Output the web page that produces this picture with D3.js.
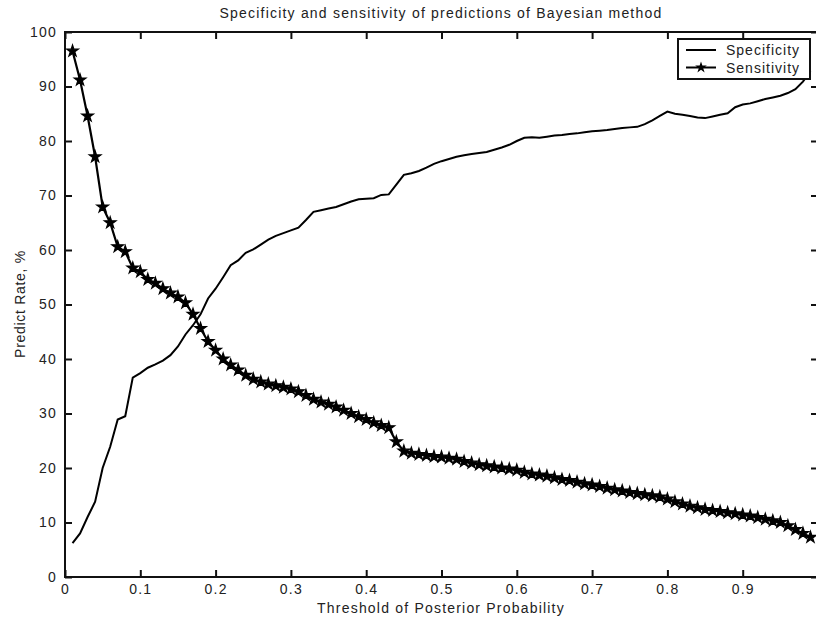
<!DOCTYPE html>
<html>
  <head>
    <meta charset="utf-8">
    <title>Specificity and sensitivity</title>
    <script src="https://cdn.jsdelivr.net/npm/d3@7"></script>
    <style>
      body { margin: 0; background: #fff; }
      text { font-family: "Liberation Sans", Arial, sans-serif; fill: #222; letter-spacing: 1.2px; }
    </style>
  </head>

  <body>
    <svg id="chart" width="816" height="617"></svg>

    <script>
      // data: thresholds 0.01 .. 0.99
      var thresholds = d3.range(1, 100).map(function(i) { return i / 100; });

      var specificity = [
        6.2, 8.0, 11.0, 13.8, 20.0, 23.9, 28.9, 29.5, 36.6, 37.4,
        38.4, 39.0, 39.7, 40.7, 42.3, 44.5, 46.2, 48.2, 51.1, 52.9,
        55.0, 57.2, 58.1, 59.5, 60.1, 61.0, 61.9, 62.6, 63.1, 63.6,
        64.1, 65.5, 67.0, 67.3, 67.6, 67.9, 68.4, 68.9, 69.3, 69.4,
        69.5, 70.1, 70.2, 72.0, 73.8, 74.1, 74.5, 75.1, 75.8, 76.3,
        76.7, 77.1, 77.4, 77.6, 77.8, 78.0, 78.4, 78.8, 79.3, 80.0,
        80.6, 80.7, 80.6, 80.8, 81.0, 81.1, 81.3, 81.4, 81.6, 81.8,
        81.9, 82.0, 82.2, 82.4, 82.5, 82.6, 83.1, 83.8, 84.6, 85.4,
        85.0, 84.8, 84.6, 84.3, 84.2, 84.5, 84.8, 85.1, 86.2, 86.7,
        86.9, 87.3, 87.7, 88.0, 88.3, 88.8, 89.5, 90.9, 92.8
      ];

      var sensitivity = [
        96.5, 91.2, 84.6, 77.1, 67.9, 65.0, 60.6, 59.7, 56.7, 56.0,
        54.6, 53.9, 52.9, 52.1, 51.4, 50.3, 48.2, 45.6, 43.2, 41.6,
        40.0, 38.9, 38.0, 37.0, 36.3, 35.8, 35.4, 35.1, 34.8, 34.5,
        34.0, 33.3, 32.6, 32.1, 31.7, 31.2, 30.6, 30.0, 29.4, 28.9,
        28.3, 27.8, 27.4, 24.8, 23.1, 22.7, 22.5, 22.3, 22.1, 22.0,
        21.8, 21.6, 21.2, 20.9, 20.6, 20.4, 20.2, 20.0, 19.8, 19.6,
        19.2, 18.9, 18.7, 18.5, 18.2, 17.9, 17.7, 17.4, 17.1, 16.9,
        16.6, 16.3, 16.0, 15.8, 15.5, 15.3, 15.1, 14.9, 14.7, 14.3,
        13.8, 13.4, 13.0, 12.7, 12.4, 12.2, 12.0, 11.8, 11.6, 11.4,
        11.2, 10.9, 10.6, 10.3, 10.0, 9.4, 8.7, 8.0, 7.3
      ];

      var xTicks = [0, 0.1, 0.2, 0.3, 0.4, 0.5, 0.6, 0.7, 0.8, 0.9];
      var xTickLabels = ["0", "0.1", "0.2", "0.3", "0.4", "0.5", "0.6", "0.7", "0.8", "0.9"];
      var yTicks = [0, 10, 20, 30, 40, 50, 60, 70, 80, 90, 100];

      var seriesNames = ["Specificity", "Sensitivity"];

      // layout (window.top is reserved, so prefix the edges)
      var chart = d3.select("#chart");
      var plotLeft = 65;
      var plotRight = 818;
      var plotTop = 32;
      var plotBottom = 577;

      var x = d3.scaleLinear().domain([0, 1]).range([plotLeft, plotRight]);
      var y = d3.scaleLinear().domain([0, 100]).range([plotBottom, plotTop]);

      // box
      chart.append("rect")
        .attr("x", plotLeft)
        .attr("y", plotTop)
        .attr("width", plotRight - plotLeft)
        .attr("height", plotBottom - plotTop)
        .attr("fill", "none")
        .attr("stroke", "#111")
        .attr("stroke-width", 2);

      // axes, ticks inward like matlab
      var xAxis = d3.axisBottom(x)
        .tickValues(xTicks)
        .tickFormat(function(d, i) { return xTickLabels[i]; })
        .tickSizeInner(-7)
        .tickSizeOuter(0)
        .tickPadding(7);

      chart.append("g")
        .attr("transform", "translate(0," + plotBottom + ")")
        .call(xAxis);

      var yAxis = d3.axisLeft(y)
        .tickValues(yTicks)
        .tickSizeInner(-7)
        .tickSizeOuter(0)
        .tickPadding(8);

      chart.append("g")
        .attr("transform", "translate(" + plotLeft + ",0)")
        .call(yAxis);

      chart.append("g")
        .attr("transform", "translate(0," + plotTop + ")")
        .call(d3.axisTop(x).tickValues(xTicks).tickFormat("").tickSizeInner(-7).tickSizeOuter(0));

      chart.append("g")
        .attr("transform", "translate(" + plotRight + ",0)")
        .call(d3.axisRight(y).tickValues(yTicks).tickFormat("").tickSizeInner(-7).tickSizeOuter(0));

      chart.selectAll(".domain").remove();
      chart.selectAll(".tick line").attr("stroke", "#111").attr("stroke-width", 2);
      chart.selectAll(".tick text")
        .style("font-family", "'Liberation Sans', Arial, sans-serif")
        .style("font-size", "14px")
        .attr("fill", "#333");

      // lines
      var line = d3.line()
        .x(function(d) { return x(d[0]); })
        .y(function(d) { return y(d[1]); });

      var specData = thresholds.map(function(t, i) { return [t, specificity[i]]; });
      var sensData = thresholds.map(function(t, i) { return [t, sensitivity[i]]; });

      chart.append("path")
        .datum(specData)
        .attr("d", line)
        .attr("fill", "none")
        .attr("stroke", "#000")
        .attr("stroke-width", 2);

      chart.append("path")
        .datum(sensData)
        .attr("d", line)
        .attr("fill", "none")
        .attr("stroke", "#000")
        .attr("stroke-width", 2.2);

      var star = d3.symbol().type(d3.symbolStar).size(42);

      chart.selectAll(".star")
        .data(sensData)
        .enter().append("path")
          .classed("star", true)
          .attr("d", star)
          .attr("transform", function(d) { return "translate(" + x(d[0]) + "," + y(d[1]) + ")"; })
          .attr("fill", "#000")
          .attr("stroke", "#000")
          .attr("stroke-width", 1.2);

      // titles
      chart.append("text")
        .attr("x", 441)
        .attr("y", 18)
        .attr("text-anchor", "middle")
        .style("font-size", "14px")
        .text("Specificity and sensitivity of predictions of Bayesian method");

      chart.append("text")
        .attr("x", 441)
        .attr("y", 613)
        .attr("text-anchor", "middle")
        .style("font-size", "14px")
        .text("Threshold of Posterior Probability");

      chart.append("text")
        .attr("transform", "translate(25,304) rotate(-90)")
        .attr("text-anchor", "middle")
        .style("font-size", "14px")
        .style("letter-spacing", "0.7px")
        .text("Predict Rate, %");

      // legend
      var legend = chart.append("g");

      legend.append("rect")
        .attr("x", 678)
        .attr("y", 39)
        .attr("width", 132)
        .attr("height", 40)
        .attr("fill", "#fff")
        .attr("stroke", "#111")
        .attr("stroke-width", 2);

      seriesNames.forEach(function(name, i) {
        var ly = 50 + i * 17.5;
        legend.append("line")
          .attr("x1", 686)
          .attr("x2", 716)
          .attr("y1", ly)
          .attr("y2", ly)
          .attr("stroke", "#000")
          .attr("stroke-width", 2);
        if (i == 1) {
          legend.append("path")
            .attr("d", star)
            .attr("transform", "translate(701," + ly + ")")
            .attr("fill", "#000");
        }
        legend.append("text")
          .attr("x", 726)
          .attr("y", ly + 5)
          .style("font-size", "14px")
          .style("letter-spacing", "1px")
          .text(name);
      });
    </script>
  </body>
</html>
